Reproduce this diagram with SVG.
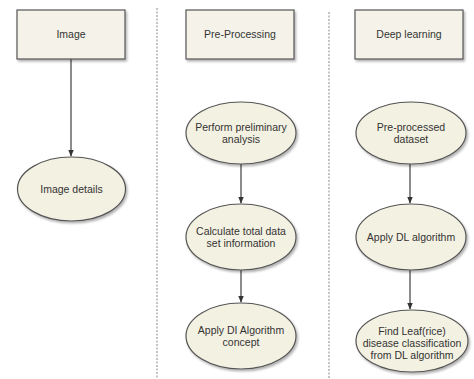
<svg xmlns="http://www.w3.org/2000/svg" width="474" height="379" viewBox="0 0 474 379">
<defs>
<filter id="sh" x="-20%" y="-20%" width="140%" height="150%">
<feDropShadow dx="1.5" dy="2" stdDeviation="1.2" flood-color="#000" flood-opacity="0.3"/>
</filter>
<marker id="ah" viewBox="0 0 10 10" refX="9" refY="5" markerWidth="7" markerHeight="7" orient="auto" markerUnits="userSpaceOnUse">
<path d="M0,1 L10,5 L0,9 Z" fill="#333"/>
</marker>
</defs>
<style>
.box{fill:#f5f3e9;stroke:#555;stroke-width:1.2;filter:url(#sh)}
.ell{fill:#f3f1e2;stroke:#555;stroke-width:1.2;filter:url(#sh)}
.t{font-family:"Liberation Sans",Arial,sans-serif;font-size:10.5px;fill:#333;text-anchor:middle}
.div{stroke:#888;stroke-width:1;stroke-dasharray:2 1.5;fill:none}
.con{stroke:#666;stroke-width:1.5;fill:none;marker-end:url(#ah)}
</style>
<rect width="474" height="379" fill="#fff"/>
<g id="dividers">
<line class="div" x1="157" y1="8" x2="157" y2="379"/>
<line class="div" x1="329" y1="12" x2="329" y2="379"/>
</g>
<g id="connectors">
<line class="con" x1="71" y1="59" x2="71" y2="156"/>
<line class="con" x1="241" y1="164" x2="241" y2="203"/>
<line class="con" x1="241" y1="270" x2="241" y2="302"/>
<line class="con" x1="410" y1="164" x2="410" y2="203"/>
<line class="con" x1="410" y1="270" x2="410" y2="309"/>
</g>
<g id="n-image">
<rect class="box" x="17" y="10" width="108" height="49"/>
<text class="t" x="71" y="38">Image</text>
</g>
<g id="n-preprocessing">
<rect class="box" x="186" y="10" width="108" height="49"/>
<text class="t" x="240" y="38">Pre-Processing</text>
</g>
<g id="n-deeplearning">
<rect class="box" x="355" y="10" width="108" height="49"/>
<text class="t" x="409" y="38">Deep learning</text>
</g>
<g id="n-imagedetails">
<ellipse class="ell" cx="71.5" cy="189" rx="54" ry="32"/>
<text class="t" x="71.5" y="193">Image details</text>
</g>
<g id="n-perform">
<ellipse class="ell" cx="241" cy="133" rx="55" ry="31"/>
<text class="t" x="241" y="131">Perform preliminary</text>
<text class="t" x="241" y="143">analysis</text>
</g>
<g id="n-calculate">
<ellipse class="ell" cx="241" cy="237" rx="55" ry="33"/>
<text class="t" x="241" y="235">Calculate total data</text>
<text class="t" x="241" y="247">set information</text>
</g>
<g id="n-applydi">
<ellipse class="ell" cx="241" cy="336" rx="55" ry="33"/>
<text class="t" x="241" y="334">Apply DI Algorithm</text>
<text class="t" x="241" y="346">concept</text>
</g>
<g id="n-preprocessed">
<ellipse class="ell" cx="411" cy="133" rx="55" ry="31"/>
<text class="t" x="411" y="131">Pre-processed</text>
<text class="t" x="411" y="143">dataset</text>
</g>
<g id="n-applydl">
<ellipse class="ell" cx="411" cy="237" rx="55" ry="33"/>
<text class="t" x="411" y="241">Apply DL algorithm</text>
</g>
<g id="n-findleaf">
<ellipse class="ell" cx="412" cy="341" rx="56" ry="31"/>
<text class="t" x="412" y="335">Find Leaf(rice)</text>
<text class="t" x="412" y="347">disease classification</text>
<text class="t" x="412" y="359">from DL algorithm</text>
</g>
</svg>
